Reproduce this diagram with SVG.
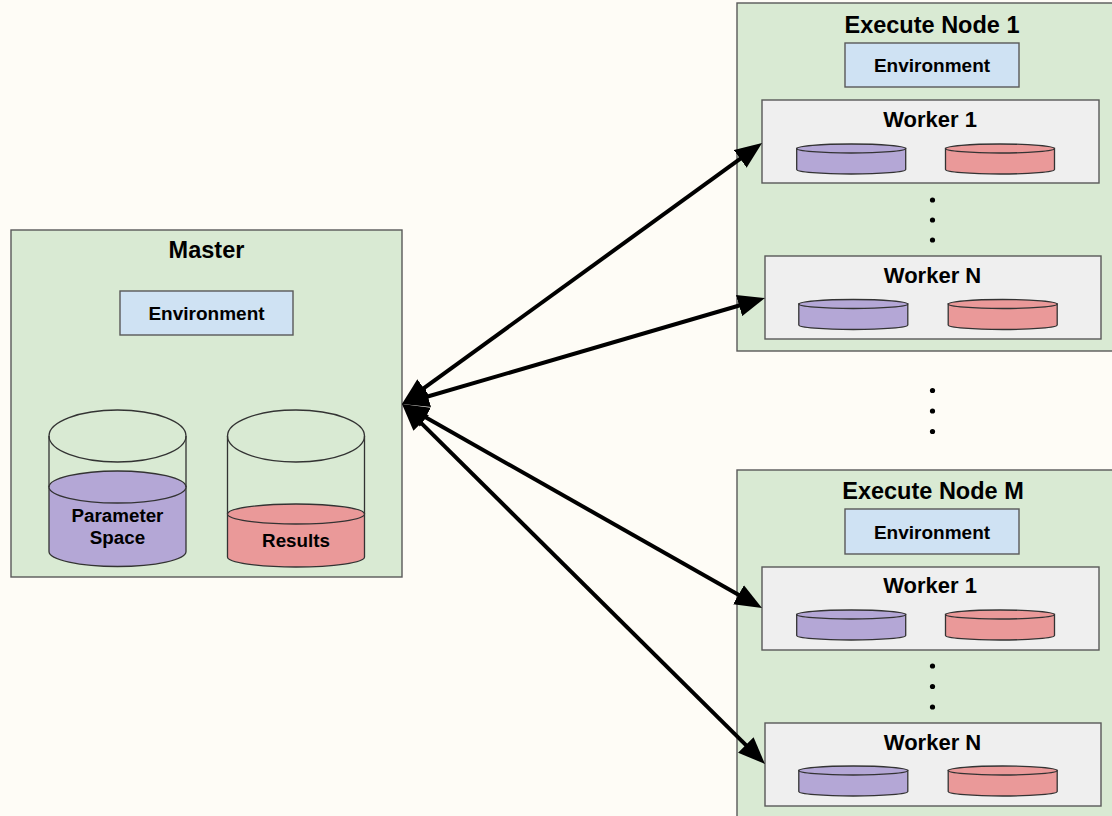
<svg xmlns="http://www.w3.org/2000/svg" width="1112" height="816" viewBox="0 0 1112 816">
  <style>
    .bg { fill: #fefcf6; }
    .node { fill: #d9ead3; stroke: #595959; stroke-width: 1.4; }
    .env { fill: #cfe2f3; stroke: #595959; stroke-width: 1.4; }
    .worker { fill: #efefef; stroke: #595959; stroke-width: 1.4; }
    .can { fill: none; stroke: #333333; stroke-width: 1.3; }
    .purple { fill: #b4a7d6; stroke: #333333; stroke-width: 1.3; }
    .red { fill: #ea9999; stroke: #333333; stroke-width: 1.3; }
    text { font-family: "Liberation Sans", Arial, sans-serif; font-weight: bold; fill: #000000; text-anchor: middle; }
    .title { font-size: 23.5px; }
    .envlabel { font-size: 19px; }
    .wlabel { font-size: 22px; }
    .canlabel { font-size: 18.8px; }
    .link { stroke: #000000; stroke-width: 4; fill: none; marker-start: url(#head); marker-end: url(#head); }
    .dot { fill: #000000; }
  </style>
  <defs>
    <marker id="head" markerUnits="userSpaceOnUse" markerWidth="28" markerHeight="22" refX="2" refY="11" orient="auto-start-reverse">
      <path d="M0,0 L27,11 L0,22 Z" fill="#000000"/>
    </marker>
    <!-- flat disk used inside each worker -->
    <g id="diskP">
      <path class="purple" d="M-54.5,0 L-54.5,21 A54.5,4.5 0 0 0 54.5,21 L54.5,0 Z"/>
      <ellipse class="purple" cx="0" cy="0" rx="54.5" ry="4.5"/>
    </g>
    <g id="diskR">
      <path class="red" d="M-54.5,0 L-54.5,21 A54.5,4.5 0 0 0 54.5,21 L54.5,0 Z"/>
      <ellipse class="red" cx="0" cy="0" rx="54.5" ry="4.5"/>
    </g>
  </defs>

  <rect class="bg" x="0" y="0" width="1112" height="816"/>

  <!-- Master -->
  <g id="master">
    <rect class="node" x="11" y="230" width="391" height="347"/>
    <text class="title" x="206.5" y="257.5">Master</text>
    <rect class="env" x="120" y="291" width="173" height="44"/>
    <text class="envlabel" x="206.5" y="320">Environment</text>
    <!-- parameter space store -->
    <path class="purple" d="M49,487 L49,551.5 A68.5,15 0 0 0 186,551.5 L186,487 Z"/>
    <ellipse class="purple" cx="117.5" cy="487" rx="68.5" ry="16"/>
    <path class="can" d="M49,436 L49,487 M186,436 L186,487"/>
    <ellipse class="can" cx="117.5" cy="436" rx="68.5" ry="26"/>
    <text class="canlabel" x="117.5" y="521.5">Parameter</text>
    <text class="canlabel" x="117.5" y="544">Space</text>
    <!-- results store -->
    <path class="red" d="M227.5,514 L227.5,557 A68.5,10 0 0 0 364.5,557 L364.5,514 Z"/>
    <ellipse class="red" cx="296" cy="514" rx="68.5" ry="10"/>
    <path class="can" d="M227.5,436 L227.5,514 M364.5,436 L364.5,514"/>
    <ellipse class="can" cx="296" cy="436" rx="68.5" ry="26"/>
    <text class="canlabel" x="296" y="546.5">Results</text>
  </g>

  <!-- Execute Node 1 -->
  <g id="exec-node-1">
    <rect class="node" x="737" y="3" width="380" height="348"/>
    <text class="title" x="932" y="33">Execute Node 1</text>
    <rect class="env" x="845" y="43" width="174" height="44"/>
    <text class="envlabel" x="932" y="72">Environment</text>
    <g id="exec-node-1-worker-1">
      <rect class="worker" x="762" y="100" width="337" height="83"/>
      <text class="wlabel" x="930" y="126.5">Worker 1</text>
      <use href="#diskP" x="851.2" y="148.5"/>
      <use href="#diskR" x="1000" y="148.5"/>
    </g>
    <circle class="dot" cx="932.5" cy="200" r="2.6"/>
    <circle class="dot" cx="932.5" cy="220" r="2.6"/>
    <circle class="dot" cx="932.5" cy="240" r="2.6"/>
    <g id="exec-node-1-worker-n">
      <rect class="worker" x="765" y="256" width="336" height="83"/>
      <text class="wlabel" x="932.5" y="283">Worker N</text>
      <use href="#diskP" x="853.3" y="304"/>
      <use href="#diskR" x="1002.7" y="304"/>
    </g>
  </g>

  <!-- ellipsis between execute nodes -->
  <g id="more-nodes">
    <circle class="dot" cx="932.5" cy="390.5" r="2.6"/>
    <circle class="dot" cx="932.5" cy="411" r="2.6"/>
    <circle class="dot" cx="932.5" cy="431.5" r="2.6"/>
  </g>

  <!-- Execute Node M -->
  <g id="exec-node-m">
    <rect class="node" x="737" y="470" width="380" height="360"/>
    <text class="title" x="933" y="499">Execute Node M</text>
    <rect class="env" x="845" y="509" width="174" height="45"/>
    <text class="envlabel" x="932" y="538.5">Environment</text>
    <g id="exec-node-m-worker-1">
      <rect class="worker" x="762" y="567" width="337" height="83"/>
      <text class="wlabel" x="930" y="593">Worker 1</text>
      <use href="#diskP" x="851.2" y="614.5"/>
      <use href="#diskR" x="1000" y="614.5"/>
    </g>
    <circle class="dot" cx="932.5" cy="666" r="2.6"/>
    <circle class="dot" cx="932.5" cy="686.5" r="2.6"/>
    <circle class="dot" cx="932.5" cy="707" r="2.6"/>
    <g id="exec-node-m-worker-n">
      <rect class="worker" x="765" y="723" width="336" height="83"/>
      <text class="wlabel" x="932.5" y="750">Worker N</text>
      <use href="#diskP" x="853.3" y="770.5"/>
      <use href="#diskR" x="1002.7" y="770.5"/>
    </g>
  </g>

  <!-- bidirectional links between master and workers -->
  <g id="connectors">
    <path class="link" d="M422.2,389.3 L741.8,157.7"/>
    <path class="link" d="M426,397 L741,305"/>
    <path class="link" d="M423.75,416.3 L740.25,595.7"/>
    <path class="link" d="M419.75,421.6 L747.25,746.4"/>
  </g>
</svg>
